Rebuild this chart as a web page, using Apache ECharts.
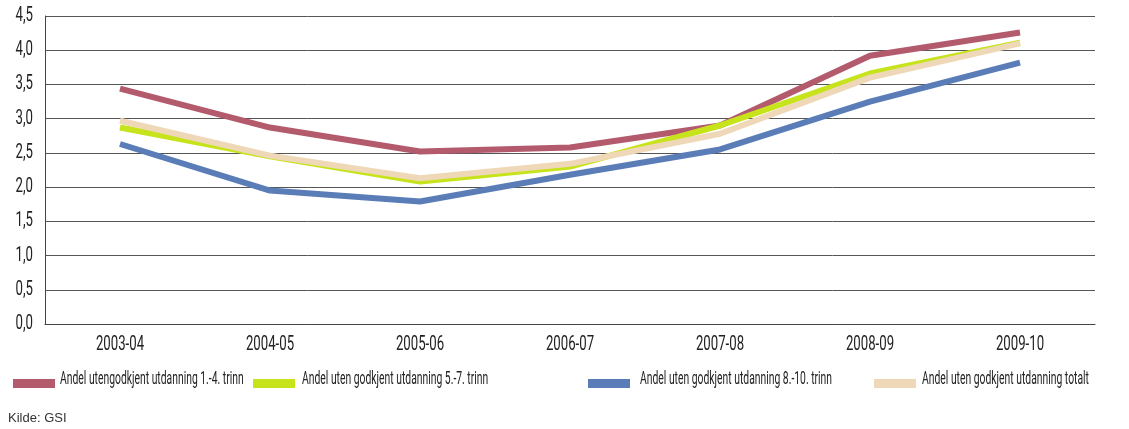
<!DOCTYPE html>
<html>
<head>
<meta charset="utf-8">
<script src="https://cdn.jsdelivr.net/npm/echarts@6/dist/echarts.min.js"></script>
<style>
  html, body { margin: 0; padding: 0; background: #ffffff; }
  #chart { width: 1129px; height: 429px; }
</style>
</head>
<body>
<div id="chart"></div>
<script>
// School years on the horizontal axis
const years = ['2003-04', '2004-05', '2005-06', '2006-07', '2007-08', '2008-09', '2009-10'];
// Value-axis ticks
const yTicks = [0, 0.5, 1, 1.5, 2, 2.5, 3, 3.5, 4, 4.5];

// Share of teachers without approved education, per grade band
const trinn1to4 = [3.44, 2.87, 2.52, 2.58, 2.90, 3.92, 4.26];
const trinn5to7 = [2.87, 2.45, 2.08, 2.30, 2.90, 3.66, 4.11];
const trinn8to10 = [2.63, 1.95, 1.79, 2.18, 2.55, 3.25, 3.82];
const totalt = [2.97, 2.46, 2.13, 2.34, 2.78, 3.60, 4.10];

const seriesNames = [
  'Andel utengodkjent utdanning 1.-4. trinn',
  'Andel uten godkjent utdanning 5.-7. trinn',
  'Andel uten godkjent utdanning 8.-10. trinn',
  'Andel uten godkjent utdanning totalt'
];
const seriesData = [trinn1to4, trinn5to7, trinn8to10, totalt];
const colors = ['#b35a6d', '#c6e31c', '#5a7db7', '#efd8b8'];

// Condensed look: a regular face squeezed horizontally
const LABEL_FONT = '20px Roboto';
const LABEL_SCALE = 0.66;
const LEGEND_FONT = '19px Roboto';
const LEGEND_SCALE = 0.545;

const legendIconLeft = [8, 248, 583, 869];
const legendTextLeft = [60, 302, 640, 922];

const legends = seriesNames.map((name, i) => ({
  data: [name],
  left: legendIconLeft[i],
  top: 374,
  itemWidth: 42,
  itemHeight: 9,
  icon: 'rect',
  formatter: () => '',
  selectedMode: false
}));

const legendTexts = seriesNames.map((name, i) => ({
  type: 'text',
  x: legendTextLeft[i],
  y: 379,
  scaleX: LEGEND_SCALE,
  silent: true,
  style: { text: name, font: LEGEND_FONT, fill: '#222', align: 'left', verticalAlign: 'middle' }
}));

const chart = echarts.init(document.getElementById('chart'), null, { renderer: 'canvas' });
chart.setOption({
  backgroundColor: '#ffffff',
  animation: false,
  color: colors,
  legend: legends,
  graphic: legendTexts.concat([{
    type: 'text',
    x: 8,
    y: 418,
    silent: true,
    style: { text: 'Kilde: GSI', font: '13px "Liberation Sans", Arial, sans-serif', fill: '#333', verticalAlign: 'middle' }
  }]),
  grid: { left: 45, right: 34, top: 16, bottom: 105, containLabel: false },
  xAxis: {
    type: 'category',
    data: years,
    boundaryGap: true,
    axisLine: { show: true, lineStyle: { color: '#444', width: 1 } },
    axisTick: { show: false },
    axisLabel: { show: false },
    splitLine: { show: false }
  },
  yAxis: {
    type: 'value',
    min: 0,
    max: 4.5,
    interval: 0.5,
    axisLine: { show: true, lineStyle: { color: '#444', width: 1 } },
    axisTick: { show: false },
    axisLabel: { show: false },
    splitLine: { show: true, lineStyle: { color: '#555', width: 1 } }
  },
  series: seriesNames.map((name, i) => ({
    name: name,
    type: 'line',
    data: seriesData[i],
    symbol: 'none',
    smooth: false,
    lineStyle: { width: 6, color: colors[i], cap: 'butt', join: 'round' },
    itemStyle: { color: colors[i] },
    z: 2 + i
  })).concat([
    {
      // category labels under the axis, positioned by the axis scale
      name: 'xLabels',
      type: 'custom',
      silent: true,
      clip: false,
      data: years.map((y, i) => [i]),
      renderItem: (params, api) => {
        const p = api.coord([api.value(0), 0]);
        return {
          type: 'text',
          x: p[0],
          y: p[1] + 11,
          scaleX: LABEL_SCALE,
          style: { text: years[params.dataIndex], font: LABEL_FONT, fill: '#222', align: 'center', verticalAlign: 'top' }
        };
      }
    },
    {
      // value labels left of the axis, decimal comma
      name: 'yLabels',
      type: 'custom',
      silent: true,
      clip: false,
      data: yTicks.map(v => [0, v]),
      renderItem: (params, api) => {
        const p = api.coord([0, api.value(1)]);
        return {
          type: 'text',
          x: params.coordSys.x - 12,
          y: p[1],
          scaleX: LABEL_SCALE,
          style: { text: yTicks[params.dataIndex].toFixed(1).replace('.', ','), font: LABEL_FONT, fill: '#222', align: 'right', verticalAlign: 'middle' }
        };
      }
    }
  ])
});
</script>
</body>
</html>
